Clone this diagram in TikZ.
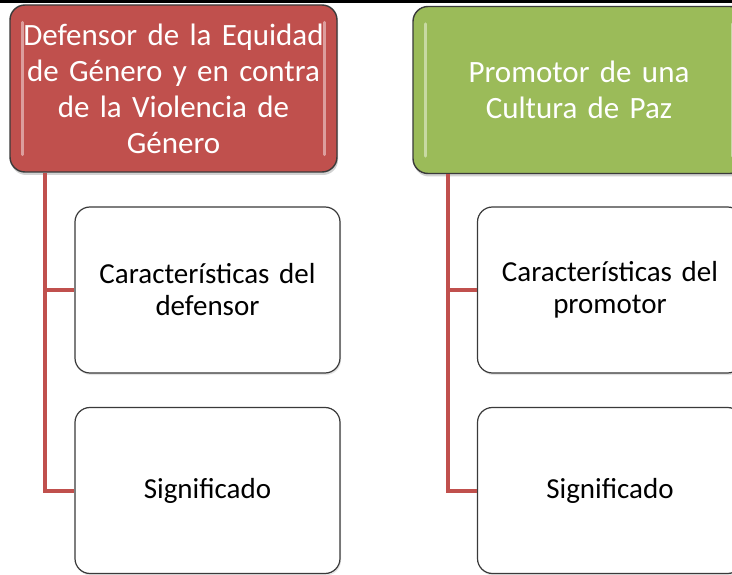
\documentclass[tikz,border=0pt]{standalone}
\usepackage{fontspec}
\setmainfont{Carlito}
\usetikzlibrary{shadows}
\definecolor{accred}{HTML}{C0504D}
\definecolor{accgreen}{HTML}{9BBB59}
\definecolor{edgegray}{HTML}{3A3A3A}
\tikzset{
  topbox/.style={draw=edgegray, line width=1.4pt, rounded corners=15pt,
    minimum height=167pt, text width=322pt, align=center, text=white,
    inner sep=0pt, font=\fontsize{31}{36}\selectfont,
    drop shadow={shadow xshift=1pt, shadow yshift=-3pt, opacity=0.35}},
  childbox/.style={draw=edgegray, line width=1.2pt, rounded corners=15pt,
    fill=white, minimum width=265pt, minimum height=166pt, text width=250pt,
    align=center, inner sep=0pt, font=\fontsize{29}{32}\selectfont,
    drop shadow={shadow xshift=1pt, shadow yshift=-2pt, opacity=0.2}},
  link/.style={draw=accred, line width=4pt},
  shine/.style={line width=3pt, line cap=round, draw=white, opacity=0.45}
}
\begin{document}
\begin{tikzpicture}[x=1pt,y=-1pt]
\useasboundingbox (0,0) rectangle (732,575);
\clip (0,0) rectangle (732,575);
\fill[white] (0,0) rectangle (732,575);
\fill[black] (0,0) rectangle (732,2.8);

% top boxes
\node[topbox, fill=accred, minimum width=327pt] (defensor) at (173.5,88.5)
  {Defensor de la Equidad\\de Género y en contra\\de la Violencia de\\Género};
\node[topbox, fill=accgreen, minimum width=332pt] (promotor) at (579,90)
  {Promotor de una\\Cultura de Paz};

% highlights
\draw[shine] ([xshift=13pt,yshift=-18pt]defensor.north west) -- ([xshift=13pt,yshift=18pt]defensor.south west);
\draw[shine] ([xshift=-13pt,yshift=-18pt]defensor.north east) -- ([xshift=-13pt,yshift=18pt]defensor.south east);
\draw[shine] ([xshift=13pt,yshift=-18pt]promotor.north west) -- ([xshift=13pt,yshift=18pt]promotor.south west);
\draw[shine] ([xshift=-13pt,yshift=-18pt]promotor.north east) -- ([xshift=-13pt,yshift=18pt]promotor.south east);

% child boxes
\node[childbox] (caracdef) at (207.5,290) {Características del\\defensor};
\node[childbox] (signdef) at (207.5,490.5) {Significado};
\node[childbox] (caracpro) at (610,290) {Características del\\promotor};
\node[childbox] (signpro) at (610,490.5) {Significado};

% connectors
\coordinate (ld) at (45,0);
\coordinate (lp) at (448,0);
\draw[link] (ld |- defensor.south) -- (ld |- caracdef.west) -- (caracdef.west);
\draw[link] (ld |- caracdef.west) -- (ld |- signdef.west) -- (signdef.west);
\draw[link] (lp |- promotor.south) -- (lp |- caracpro.west) -- (caracpro.west);
\draw[link] (lp |- caracpro.west) -- (lp |- signpro.west) -- (signpro.west);
\end{tikzpicture}
\end{document}
